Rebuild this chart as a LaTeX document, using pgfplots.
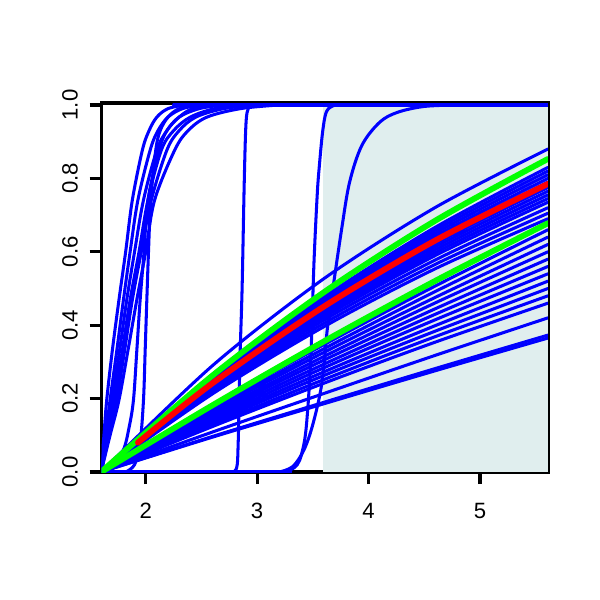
\documentclass[border=0pt]{standalone}
\usepackage{fontspec}
\setmainfont{Liberation Sans}
\usepackage{pgfplots}
\pgfplotsset{compat=1.18}
\definecolor{shadecol}{RGB}{224,238,238}
\pgfplotsset{
  bl/.style={color=blue, line width=2.2pt, smooth, no marks, line cap=round, line join=round},
  bls/.style={color=blue, line width=2.2pt, smooth, tension=0.55, no marks, line cap=round, line join=round},
  gr/.style={color=green, line width=4.2pt, smooth, no marks, line cap=round, line join=round},
  rd/.style={color=red, line width=4.2pt, smooth, no marks, line cap=round, line join=round},
}
\begin{document}
\begin{tikzpicture}
\begin{axis}[
  scale only axis, width=4.466in, height=3.69in,
  xmin=1.605, xmax=5.613, ymin=0, ymax=1.0054,
  axis line style={line width=2.2pt, black},
  tick align=outside, major tick length=0.12in,
  tick style={line width=2.2pt, black},
  xtick pos=left, ytick pos=left,
  xtick={2,3,4,5}, ytick={0,0.2,0.4,0.6,0.8,1},
  /pgf/number format/assume math mode=true,
  ticklabel style={font=\fontsize{16}{16}\selectfont},
  yticklabel style={xshift=-5pt, rotate=90, anchor=south, /pgf/number format/.cd, fixed, fixed zerofill, precision=1},
  xticklabel style={yshift=-10.5pt, anchor=north},
  clip=true,
]
\fill[shadecol] (axis cs:3.59,-0.1) rectangle (axis cs:6,1.2);
\coordinate (s1) at (axis cs:3.59,0);
\coordinate (s2) at (axis cs:5.613,0);
\coordinate (s3) at (axis cs:5.613,1.0054);
\coordinate (s4) at (axis cs:3.59,1.0054);
% curves lying on 0 and on 1
\addplot[bl, sharp plot] coordinates {(1.6,0)(3.3,0)};
\addplot[bl, sharp plot] coordinates {(2.25,1)(5.62,1)};
% steep left group
\addplot[bls] coordinates {(1.6,0)(1.625,0.1)(1.65,0.196)(1.70,0.33)(1.76,0.469)(1.82,0.6)(1.88,0.741)(1.97,0.877)(2.03,0.93)(2.1,0.967)(2.2,0.99)(2.35,1.0)};
\addplot[bls] coordinates {(1.6,0)(1.64,0.1)(1.68,0.196)(1.74,0.33)(1.80,0.469)(1.86,0.6)(1.93,0.741)(2.04,0.877)(2.11,0.93)(2.2,0.967)(2.33,0.99)(2.5,1.0)};
\addplot[bls] coordinates {(1.6,0)(1.65,0.1)(1.70,0.196)(1.765,0.33)(1.83,0.469)(1.90,0.6)(1.98,0.741)(2.10,0.877)(2.19,0.93)(2.3,0.967)(2.48,0.99)(2.7,1.0)};
\addplot[bls] coordinates {(1.6,0)(1.66,0.1)(1.72,0.196)(1.79,0.33)(1.86,0.469)(1.94,0.6)(2.02,0.741)(2.14,0.877)(2.25,0.93)(2.4,0.967)(2.62,0.99)(2.9,1.0)};
\addplot[bls] coordinates {(1.6,0)(1.67,0.1)(1.74,0.196)(1.81,0.33)(1.88,0.469)(1.96,0.6)(2.05,0.741)(2.19,0.877)(2.3,0.93)(2.45,0.967)(2.7,0.99)(3.0,1.0)};
\addplot[bls] coordinates {(1.6,0)(1.68,0.1)(1.76,0.196)(1.84,0.33)(1.92,0.469)(2.0,0.6)(2.08,0.741)(2.26,0.877)(2.38,0.93)(2.55,0.967)(2.85,0.99)(3.2,1.0)};
\addplot[bls] coordinates {(1.82,0)(1.9,0.02)(1.95,0.08)(1.98,0.196)(1.995,0.33)(2.01,0.469)(2.025,0.6)(2.045,0.741)(2.09,0.877)(2.13,0.93)(2.2,0.967)(2.3,0.99)(2.45,1.0)};
\addplot[bls] coordinates {(1.7,0.01)(1.8,0.06)(1.85,0.12)(1.89,0.196)(1.92,0.33)(1.95,0.469)(1.985,0.6)(2.02,0.741)(2.12,0.877)(2.19,0.93)(2.3,0.967)(2.42,0.99)(2.6,1.0)};
% step near 2.85
\addplot[bls] coordinates {(2.76,0)(2.815,0.01)(2.83,0.08)(2.845,0.3)(2.865,0.5)(2.885,0.8)(2.9,0.95)(2.92,0.99)(2.96,1.0)};
% sigmoid near 3.5
\addplot[bls] coordinates {(3.2,0)(3.3,0.006)(3.36,0.02)(3.40,0.05)(3.44,0.12)(3.48,0.30)(3.51,0.57)(3.54,0.76)(3.56,0.84)(3.585,0.92)(3.61,0.97)(3.64,0.99)(3.7,1.0)};
% slower sigmoid
\addplot[bls] coordinates {(3.2,0)(3.32,0.015)(3.42,0.06)(3.5,0.13)(3.58,0.24)(3.63,0.39)(3.68,0.50)(3.76,0.665)(3.83,0.79)(3.94,0.89)(4.1,0.953)(4.26,0.98)(4.5,0.996)(4.8,1.0)};
% fan: lower group
\addplot[bl] coordinates {(1.6,0)(2.6,0.095)(3.6,0.186)(4.6,0.276)(5.61,0.365)};
\addplot[bl] coordinates {(1.6,0)(2.6,0.097)(3.6,0.190)(4.6,0.282)(5.61,0.373)};
\addplot[bl] coordinates {(1.6,0)(2.6,0.109)(3.6,0.214)(4.6,0.318)(5.61,0.420)};
\addplot[bl] coordinates {(1.6,0)(2.6,0.124)(3.6,0.242)(4.6,0.354)(5.61,0.460)};
\addplot[bl] coordinates {(1.6,0)(2.6,0.129)(3.6,0.252)(4.6,0.369)(5.61,0.480)};
\addplot[bl] coordinates {(1.6,0)(2.6,0.135)(3.6,0.263)(4.6,0.384)(5.61,0.500)};
\addplot[bl] coordinates {(1.6,0)(2.6,0.140)(3.6,0.273)(4.6,0.399)(5.61,0.520)};
\addplot[bl] coordinates {(1.6,0)(2.6,0.145)(3.6,0.284)(4.6,0.415)(5.61,0.540)};
\addplot[bl] coordinates {(1.6,0)(2.6,0.151)(3.6,0.294)(4.6,0.430)(5.61,0.560)};
\addplot[bl] coordinates {(1.6,0)(2.6,0.156)(3.6,0.305)(4.6,0.445)(5.61,0.580)};
\addplot[bl] coordinates {(1.6,0)(2.6,0.161)(3.6,0.315)(4.6,0.461)(5.61,0.600)};
\addplot[bl] coordinates {(1.6,0)(2.6,0.167)(3.6,0.326)(4.6,0.476)(5.61,0.620)};
\addplot[bl] coordinates {(1.6,0)(2.6,0.172)(3.6,0.336)(4.6,0.492)(5.61,0.640)};
\addplot[bl] coordinates {(1.6,0)(2.6,0.178)(3.6,0.347)(4.6,0.507)(5.61,0.660)};
% fan: dense bundle
\addplot[bl] coordinates {(1.6,0)(2.6,0.213)(3.6,0.396)(4.6,0.554)(5.61,0.690)};
\addplot[bl] coordinates {(1.6,0)(2.6,0.218)(3.6,0.405)(4.6,0.566)(5.61,0.705)};
\addplot[bl] coordinates {(1.6,0)(2.6,0.222)(3.6,0.414)(4.6,0.578)(5.61,0.720)};
\addplot[bl] coordinates {(1.6,0)(2.6,0.227)(3.6,0.422)(4.6,0.590)(5.61,0.735)};
\addplot[bl] coordinates {(1.6,0)(2.6,0.230)(3.6,0.428)(4.6,0.598)(5.61,0.745)};
\addplot[bl] coordinates {(1.6,0)(2.6,0.233)(3.6,0.434)(4.6,0.606)(5.61,0.755)};
\addplot[bl] coordinates {(1.6,0)(2.6,0.236)(3.6,0.440)(4.6,0.614)(5.61,0.765)};
\addplot[bl] coordinates {(1.6,0)(2.6,0.239)(3.6,0.445)(4.6,0.622)(5.61,0.775)};
\addplot[bl] coordinates {(1.6,0)(2.6,0.244)(3.6,0.454)(4.6,0.635)(5.61,0.790)};
\addplot[bl] coordinates {(1.6,0)(2.6,0.247)(3.6,0.460)(4.6,0.643)(5.61,0.800)};
\addplot[bl] coordinates {(1.6,0)(2.6,0.250)(3.6,0.465)(4.6,0.651)(5.61,0.810)};
\addplot[bl] coordinates {(1.6,0)(2.6,0.253)(3.6,0.471)(4.6,0.659)(5.61,0.820)};
\addplot[bl] coordinates {(1.6,0)(2.6,0.256)(3.6,0.477)(4.6,0.667)(5.61,0.830)};
% top blue
\addplot[bl] coordinates {(1.6,0)(2.6,0.290)(3.6,0.527)(4.6,0.721)(5.61,0.880)};
% greens and red
\addplot[gr] coordinates {(1.6,0)(2.6,0.182)(3.6,0.356)(4.6,0.521)(5.61,0.678)};
\addplot[gr] coordinates {(1.6,0)(2.6,0.263)(3.6,0.490)(4.6,0.685)(5.61,0.853)};
\addplot[rd] coordinates {(1.93,0.08)(2.6,0.242)(3.6,0.451)(4.6,0.631)(5.61,0.785)};
\end{axis}
\draw[black, line width=1pt] ([yshift=-0.6pt]s1) -- ([xshift=0.6pt,yshift=-0.6pt]s2) -- ([xshift=0.6pt,yshift=0.6pt]s3) -- ([yshift=0.6pt]s4);
\path[use as bounding box] (-1.017in,-1.28in) rectangle (4.983in,4.72in);
\end{tikzpicture}
\end{document}
